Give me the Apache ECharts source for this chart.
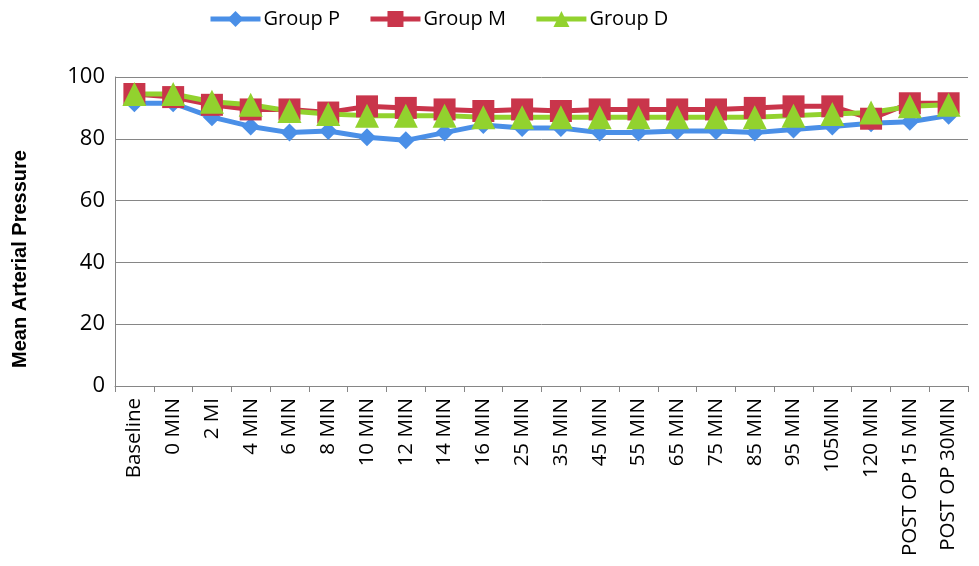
<!DOCTYPE html>
<html>
<head>
<meta charset="utf-8">
<script src="https://cdn.jsdelivr.net/npm/echarts@6/dist/echarts.min.js"></script>
<style>
html,body{margin:0;padding:0;background:#fff;}
#chart{width:979px;height:566px;}
</style>
</head>
<body>
<div id="chart"></div>
<script>
const categories = ['Baseline','0 MIN','2 MI','4 MIN','6 MIN','8 MIN','10 MIN','12 MIN','14 MIN','16 MIN','25 MIN','35 MIN','45 MIN','55 MIN','65 MIN','75 MIN','85 MIN','95 MIN','105MIN','120 MIN','POST OP 15 MIN','POST OP 30MIN'];
const groupP = [91.5, 91.5, 87, 84, 82, 82.5, 80.5, 79.5, 82, 84.5, 83.5, 83.5, 82, 82, 82.5, 82.5, 82, 83, 84, 85, 85.5, 87.5];
const groupM = [94.5, 93.5, 91, 89.5, 89.5, 88.5, 90.5, 90, 89.5, 89, 89.5, 89, 89.5, 89.5, 89.5, 89.5, 90, 90.5, 90.5, 86.5, 91.5, 91.5];
const groupD = [94.5, 94.5, 92, 91, 89, 88, 87.5, 87.5, 87.5, 87, 87, 87, 87, 87, 87, 87, 87, 87.5, 88, 88.5, 90.5, 91];
const yTicks = {min: 0, max: 100, interval: 20};
const yTitle = 'Mean Arterial Pressure';

const chart = echarts.init(document.getElementById('chart'), null, {renderer: 'canvas'});
const font = '"Open Sans", "Noto Sans", sans-serif';
function mk(name, data, color, symbol, size) {
  return {
    name: name, type: 'line', data: data,
    symbol: symbol, symbolSize: size,
    lineStyle: {color: color, width: 5},
    itemStyle: {color: color},
    emphasis: {disabled: true},
    animation: false
  };
}
chart.setOption({
  animation: false,
  backgroundColor: '#fff',
  legend: {
    top: 4, left: 203,
    itemWidth: 50, itemHeight: 20, itemGap: 28,
    lineStyle: {width: 5},
    textStyle: {fontFamily: font, fontSize: 20, color: '#000', padding: [0, 0, 0, -2]},
    data: ['Group P','Group M','Group D']
  },
  grid: {left: 115, right: 11, top: 77, bottom: 180, containLabel: false},
  graphic: [{
    type: 'text', x: 20, y: 259, rotation: Math.PI / 2,
    style: {text: yTitle, font: 'bold 20px "Liberation Sans", Arial, sans-serif', fill: '#000', align: 'center', verticalAlign: 'middle'}
  }],
  xAxis: {
    type: 'category', data: categories, boundaryGap: true,
    axisLine: {lineStyle: {color: '#868686', width: 1}},
    axisTick: {show: true, alignWithLabel: false, length: 6, lineStyle: {color: '#868686'}},
    axisLabel: {rotate: 90, interval: 0, fontFamily: font, fontSize: 20.5, color: '#000', margin: 12}
  },
  yAxis: {
    type: 'value', min: yTicks.min, max: yTicks.max, interval: yTicks.interval,
    axisLine: {show: true, lineStyle: {color: '#868686', width: 1}},
    axisTick: {show: false},
    splitLine: {lineStyle: {color: '#868686', width: 1}},
    axisLabel: {fontFamily: font, fontSize: 22, color: '#000', margin: 10}
  },
  series: [
    mk('Group P', groupP, '#4a8fe7', 'diamond', 18),
    mk('Group M', groupM, '#c9354b', 'rect', 22),
    mk('Group D', groupD, '#92d22e', 'triangle', 24)
  ]
});
</script>
</body>
</html>
